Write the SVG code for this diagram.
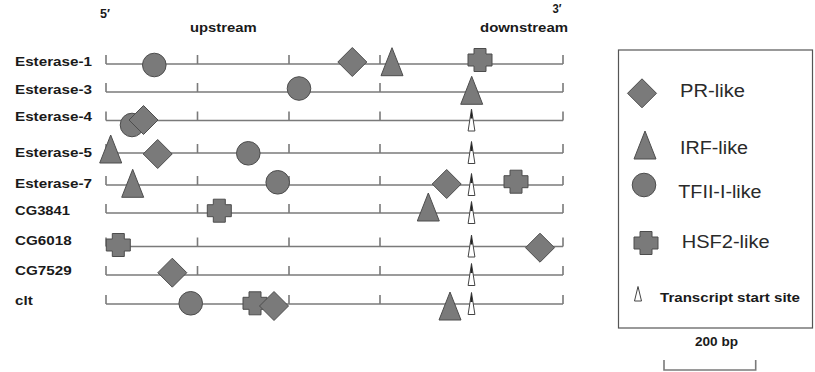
<svg xmlns="http://www.w3.org/2000/svg" xmlns:xlink="http://www.w3.org/1999/xlink" width="815" height="372" viewBox="0 0 815 372">
<style>
.lab{font-family:"Liberation Sans",Arial,sans-serif;font-weight:bold;font-size:13px;fill:#1a1a1a}
.leg{font-family:"Liberation Sans",Arial,sans-serif;font-size:17.5px;fill:#2a2a2a}
.trk{stroke:#7a7a7a;stroke-width:1.6;fill:none}
.mot{fill:#7a7a7a;stroke:#4d4d4d;stroke-width:1;stroke-linejoin:round}
.tss{fill:#fff;stroke:#444;stroke-width:1}
.box{fill:none;stroke:#555;stroke-width:1.2}
</style>
<defs>
<polygon id="dia" class="mot" points="0,-14.5 14.5,0 0,14.5 -14.5,0"/>
<polygon id="tri" class="mot" points="0,-14 11,14 -11,14"/>
<circle id="cir" class="mot" r="11.8"/>
<path id="crs" class="mot" d="M-6,-11.5 H6 V-6 H12 V6 H6 V11.5 H-6 V6 H-12 V-6 H-6 Z"/>
<g id="tssm">
<polygon class="tss" points="0,-11.5 3.4,10.5 -3.4,10.5"/>
<polygon fill="#222" points="0,-11.5 1.2,-2 -1.2,-2"/>
</g>
<path id="ticks" class="trk" d="M106,0 V-9 M197.5,0 V-9 M289,0 V-9 M380,0 V-9 M563,0 V-9"/>
</defs>

<g id="header">
<text class="lab" x="100" y="18.3" textLength="10" lengthAdjust="spacingAndGlyphs" style="font-size:13.5px">5′</text>
<text class="lab" x="190" y="32.3" textLength="66.7" lengthAdjust="spacingAndGlyphs">upstream</text>
<text class="lab" x="552.5" y="13.3" textLength="9" lengthAdjust="spacingAndGlyphs" style="font-size:13.5px">3′</text>
<text class="lab" x="480" y="32" textLength="88" lengthAdjust="spacingAndGlyphs">downstream</text>
</g>

<g id="connectors">
<line class="trk" x1="106" y1="64" x2="563" y2="64"/><use xlink:href="#ticks" y="64"/>
<line class="trk" x1="106" y1="92" x2="563" y2="92"/><use xlink:href="#ticks" y="92"/>
<line class="trk" x1="106" y1="120.5" x2="563" y2="120.5"/><use xlink:href="#ticks" y="120.5"/>
<line class="trk" x1="106" y1="153" x2="563" y2="153"/><use xlink:href="#ticks" y="153"/>
<line class="trk" x1="106" y1="185" x2="563" y2="185"/><use xlink:href="#ticks" y="185"/>
<line class="trk" x1="106" y1="213" x2="563" y2="213"/><use xlink:href="#ticks" y="213"/>
<line class="trk" x1="106" y1="246.5" x2="563" y2="246.5"/><use xlink:href="#ticks" y="246.5"/>
<line class="trk" x1="106" y1="275" x2="563" y2="275"/><use xlink:href="#ticks" y="275"/>
<line class="trk" x1="106" y1="304" x2="563" y2="304"/><use xlink:href="#ticks" y="304"/>
</g>

<g id="esterase-1">
<text class="lab" x="15" y="65.7" textLength="77" lengthAdjust="spacingAndGlyphs">Esterase-1</text>
<use xlink:href="#cir" x="154.3" y="65"/>
<use xlink:href="#dia" x="352.3" y="62"/>
<use xlink:href="#tri" x="392" y="61.7"/>
<use xlink:href="#crs" x="480" y="60"/>
</g>
<g id="esterase-3">
<text class="lab" x="15" y="94" textLength="77" lengthAdjust="spacingAndGlyphs">Esterase-3</text>
<use xlink:href="#cir" x="299" y="88.5"/>
<use xlink:href="#tri" x="471.7" y="90.3"/>
</g>
<g id="esterase-4">
<text class="lab" x="15" y="120.7" textLength="77" lengthAdjust="spacingAndGlyphs">Esterase-4</text>
<use xlink:href="#cir" x="132" y="125"/>
<use xlink:href="#dia" x="143.5" y="120"/>
<use xlink:href="#tssm" x="471.5" y="120.5"/>
</g>
<g id="esterase-5">
<text class="lab" x="15" y="156.7" textLength="77" lengthAdjust="spacingAndGlyphs">Esterase-5</text>
<use xlink:href="#tri" x="110.7" y="149"/>
<use xlink:href="#dia" x="157.7" y="154"/>
<use xlink:href="#cir" x="248.3" y="153.3"/>
<use xlink:href="#tssm" x="471.5" y="153"/>
</g>
<g id="esterase-7">
<text class="lab" x="15" y="188.3" textLength="77" lengthAdjust="spacingAndGlyphs">Esterase-7</text>
<use xlink:href="#tri" x="132.7" y="183.3"/>
<use xlink:href="#cir" x="277.7" y="182.3"/>
<use xlink:href="#dia" x="446.7" y="184"/>
<use xlink:href="#tssm" x="471.5" y="185"/>
<use xlink:href="#crs" x="516" y="181.7"/>
</g>
<g id="cg3841">
<text class="lab" x="15" y="215" textLength="55" lengthAdjust="spacingAndGlyphs">CG3841</text>
<use xlink:href="#crs" x="219.3" y="210.7"/>
<use xlink:href="#tri" x="428.3" y="207"/>
<use xlink:href="#tssm" x="471.5" y="213"/>
</g>
<g id="cg6018">
<text class="lab" x="15" y="245" textLength="56.7" lengthAdjust="spacingAndGlyphs">CG6018</text>
<use xlink:href="#crs" x="118.3" y="245"/>
<use xlink:href="#tssm" x="471.5" y="246.5"/>
<use xlink:href="#dia" x="540" y="247.7"/>
</g>
<g id="cg7529">
<text class="lab" x="15" y="275" textLength="56.7" lengthAdjust="spacingAndGlyphs">CG7529</text>
<use xlink:href="#dia" x="172.3" y="272.7"/>
<use xlink:href="#tssm" x="471.5" y="275"/>
</g>
<g id="clt">
<text class="lab" x="15" y="305" textLength="17.7" lengthAdjust="spacingAndGlyphs">clt</text>
<use xlink:href="#cir" x="190.7" y="303.3"/>
<use xlink:href="#crs" x="255" y="303.3"/>
<use xlink:href="#dia" x="274" y="306"/>
<use xlink:href="#tri" x="450" y="306"/>
<use xlink:href="#tssm" x="471.5" y="304"/>
</g>

<g id="legend">
<rect class="box" x="618.5" y="50" width="194" height="278"/>
<use xlink:href="#dia" x="642" y="93.3"/>
<text class="leg" x="680" y="96.7" textLength="65" lengthAdjust="spacingAndGlyphs">PR-like</text>
<use xlink:href="#tri" x="645" y="145"/>
<text class="leg" x="680" y="154" textLength="68" lengthAdjust="spacingAndGlyphs">IRF-like</text>
<use xlink:href="#cir" x="644" y="185"/>
<text class="leg" x="678.3" y="198.3" textLength="83.3" lengthAdjust="spacingAndGlyphs">TFII-I-like</text>
<use xlink:href="#crs" x="646" y="243"/>
<text class="leg" x="681.7" y="248.3" textLength="88" lengthAdjust="spacingAndGlyphs">HSF2-like</text>
<polygon class="tss" points="638,286.5 641.5,301 634.5,301"/>
<text class="lab" x="660" y="301.7" textLength="140" lengthAdjust="spacingAndGlyphs">Transcript start site</text>
</g>

<g id="scale">
<text class="lab" x="695" y="346" textLength="43" lengthAdjust="spacingAndGlyphs">200 bp</text>
<path class="trk" d="M664,360 V370 H755.7 V360"/>
</g>
</svg>
